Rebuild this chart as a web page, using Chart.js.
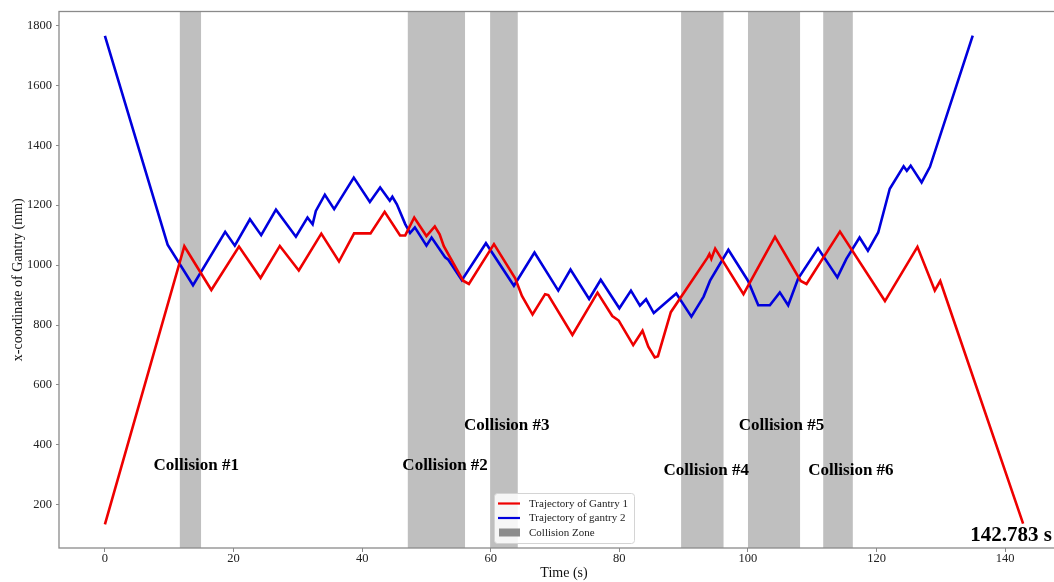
<!DOCTYPE html>
<html>
<head>
<meta charset="utf-8">
<script src="https://cdn.jsdelivr.net/npm/chart.js@4.4.1/dist/chart.umd.min.js"></script>
<style>
  html, body { margin: 0; padding: 0; background: #fff; overflow: hidden; width: 1054px; height: 582px; }
  #wrap { width: 1075px; height: 582px; }
</style>
</head>
<body>
<div id="wrap"><canvas id="c" width="1075" height="582"></canvas></div>
<script>
// Gantry 1 trajectory: time (s) and x-coordinate (mm)
const gantry1Time = [0, 12.35, 16.55, 20.85, 24.2, 27.2, 30.15, 33.65, 36.4, 38.75, 41.3, 43.5, 45.9, 46.7,
  48.1, 50.0, 51.3, 52.05, 52.7, 55.7, 56.6, 60.5, 63.8, 64.85, 66.5, 68.45, 68.95, 72.7, 76.6, 78.9, 79.9,
  82.15, 83.6, 84.5, 85.5, 86.0, 88.0, 93.7, 94.0, 94.3, 94.9, 99.3, 104.2, 108.2, 109.1, 114.3, 121.3,
  126.35, 129.05, 129.9, 142.783];
const gantry1Pos = [135, 1063, 917, 1062, 957, 1064, 982, 1105, 1012, 1106, 1106, 1178, 1099, 1099,
  1159, 1097, 1129, 1103, 1063, 948, 937, 1070, 956, 897, 835, 903, 900, 767, 908, 830, 815,
  733, 781, 728, 692, 696, 843, 1025, 1037, 1021, 1055, 903, 1094, 947, 937, 1112, 880,
  1061, 915, 947, 137];

// Gantry 2 trajectory: time (s) and x-coordinate (mm)
const gantry2Time = [0, 9.75, 13.7, 18.7, 20.2, 22.55, 24.3, 26.6, 29.7, 31.5, 32.3, 32.8, 34.2, 35.65,
  38.7, 41.2, 42.8, 44.3, 44.7, 45.4, 46.7, 47.45, 48.2, 50.0, 50.8, 52.9, 53.4, 55.5, 59.25, 63.6, 66.8,
  70.5, 72.4, 75.3, 77.1, 80.0, 81.8, 83.2, 84.15, 85.35, 88.85, 91.2, 93.1, 94.1, 96.95, 100.0, 101.6,
  103.4, 104.95, 106.25, 107.8, 110.9, 113.9, 115.3, 117.35, 118.65, 120.25, 122.05, 124.2, 124.7,
  125.3, 127.0, 128.3, 134.95];
const gantry2Pos = [1765, 1068, 933, 1111, 1065, 1153, 1100, 1185, 1095, 1159, 1136, 1181, 1235, 1187,
  1292, 1211, 1259, 1215, 1228, 1203, 1137, 1107, 1126, 1065, 1092, 1026, 1018, 950, 1073, 931, 1042,
  915, 985, 887, 951, 856, 915, 865, 886, 840, 905, 828, 895, 948, 1051, 948, 866,
  866, 909, 866, 955, 1056, 959, 1021, 1092, 1048, 1109, 1255, 1330, 1315,
  1332, 1276, 1328, 1766];

// Collision zones (s)
const collisionStart = [11.65, 47.1, 59.9, 89.6, 100.0, 111.7];
const collisionEnd   = [14.95, 56.0, 64.2, 96.2, 108.1, 116.3];
const collisionNames = ['Collision #1', 'Collision #2', 'Collision #3', 'Collision #4', 'Collision #5', 'Collision #6'];
const collisionLabelTime = [14.2, 52.9, 62.5, 93.5, 105.2, 116.0];
const collisionLabelPos  = [331, 331, 464, 315, 464, 315];

// Axis ticks
const timeTicks = [0, 20, 40, 60, 80, 100, 120, 140];
const posTicks = [200, 400, 600, 800, 1000, 1200, 1400, 1600, 1800];

const finishTime = gantry1Time[gantry1Time.length - 1];
const finishLabelTime = 140.9;
const finishLabelPos = 98;

const SERIF = "'Liberation Serif', 'Times New Roman', serif";
const BAND = '#bfbfbf';

const toPoints = (ts, ys) => ts.map((t, i) => ({ x: t, y: ys[i] }));

const bandsPlugin = {
  id: 'collisionBands',
  beforeDatasetsDraw(chart) {
    const { ctx, chartArea, scales: { x } } = chart;
    ctx.save();
    ctx.fillStyle = BAND;
    collisionStart.forEach((s, i) => {
      const x0 = x.getPixelForValue(s);
      const x1 = x.getPixelForValue(collisionEnd[i]);
      ctx.fillRect(x0, chartArea.top, x1 - x0, chartArea.bottom - chartArea.top);
    });
    ctx.restore();
  }
};

const annotatePlugin = {
  id: 'annotations',
  afterDatasetsDraw(chart) {
    const { ctx, chartArea, scales: { x, y } } = chart;
    ctx.save();
    // frame
    ctx.strokeStyle = '#8a8a8a';
    ctx.lineWidth = 1.3;
    ctx.strokeRect(chartArea.left, chartArea.top, chartArea.right - chartArea.left, chartArea.bottom - chartArea.top);

    ctx.fillStyle = '#000';
    ctx.textAlign = 'center';
    ctx.textBaseline = 'middle';
    ctx.font = `bold 17px ${SERIF}`;
    collisionNames.forEach((name, i) => {
      ctx.fillText(name, x.getPixelForValue(collisionLabelTime[i]), y.getPixelForValue(collisionLabelPos[i]));
    });
    ctx.font = `bold 21px ${SERIF}`;
    ctx.fillText(`${finishTime} s`, x.getPixelForValue(finishLabelTime), y.getPixelForValue(finishLabelPos));

    // legend
    const bx = 494, by = 493, bw = 140, bh = 50;
    ctx.fillStyle = 'rgba(255,255,255,0.85)';
    ctx.strokeStyle = '#d4d4d4';
    ctx.lineWidth = 1;
    ctx.beginPath();
    ctx.roundRect(bx + 0.5, by + 0.5, bw, bh, 3);
    ctx.fill();
    ctx.stroke();

    const rows = [
      { text: 'Trajectory of Gantry 1', color: chart.data.datasets[0].borderColor, kind: 'line' },
      { text: 'Trajectory of gantry 2', color: chart.data.datasets[1].borderColor, kind: 'line' },
      { text: 'Collision Zone', color: '#8c8c8c', kind: 'patch' }
    ];
    ctx.font = `11px ${SERIF}`;
    ctx.textAlign = 'left';
    rows.forEach((r, i) => {
      const cy = by + 10.5 + i * 14.5;
      if (r.kind === 'line') {
        ctx.strokeStyle = r.color;
        ctx.lineWidth = 2.2;
        ctx.beginPath();
        ctx.moveTo(bx + 4, cy);
        ctx.lineTo(bx + 26, cy);
        ctx.stroke();
      } else {
        ctx.fillStyle = r.color;
        ctx.fillRect(bx + 5, cy - 4, 21, 8);
      }
      ctx.fillStyle = '#222';
      ctx.fillText(r.text, bx + 35, cy + 0.5);
    });
    ctx.restore();
  }
};

new Chart(document.getElementById('c'), {
  type: 'line',
  data: {
    datasets: [
      {
        label: 'Trajectory of Gantry 1',
        data: toPoints(gantry1Time, gantry1Pos),
        borderColor: '#ee0000',
        borderWidth: 2.6,
        pointRadius: 0,
        tension: 0,
        fill: false
      },
      {
        label: 'Trajectory of gantry 2',
        data: toPoints(gantry2Time, gantry2Pos),
        borderColor: '#0000dd',
        borderWidth: 2.6,
        pointRadius: 0,
        tension: 0,
        fill: false
      }
    ]
  },
  options: {
    responsive: false,
    animation: false,
    events: [],
    layout: { padding: { top: 9, right: 6, left: 0, bottom: 0 } },
    plugins: { legend: { display: false }, tooltip: { enabled: false } },
    scales: {
      x: {
        type: 'linear',
        min: -7.14,
        max: 149.92,
        afterBuildTicks: (s) => { s.ticks = timeTicks.map(v => ({ value: v })); },
        afterFit: (s) => { s.height = 34; },
        grid: { display: true, drawOnChartArea: false, drawTicks: true, tickLength: 4, tickColor: '#8a8a8a' },
        border: { display: false },
        ticks: { color: '#222', padding: 0, font: { family: SERIF, size: 12.5, lineHeight: 1 }, maxRotation: 0,
          callback: (v) => String(v) },
        title: { display: true, text: 'Time (s)', color: '#111', font: { family: SERIF, size: 14 }, padding: { top: 0, bottom: 0 } }
      },
      y: {
        type: 'linear',
        min: 55.8,
        max: 1846.5,
        afterBuildTicks: (s) => { s.ticks = posTicks.map(v => ({ value: v })); },
        afterFit: (s) => { s.width = 59; },
        grid: { display: true, drawOnChartArea: false, drawTicks: true, tickLength: 3, tickColor: '#8a8a8a' },
        border: { display: false },
        ticks: { color: '#222', padding: 4, font: { family: SERIF, size: 12.5 }, callback: (v) => String(v) },
        title: { display: true, text: 'x-coordinate of Gantry (mm)', color: '#111', font: { family: SERIF, size: 14 }, padding: { top: 10, bottom: 0 } }
      }
    }
  },
  plugins: [bandsPlugin, annotatePlugin]
});
</script>
</body>
</html>
